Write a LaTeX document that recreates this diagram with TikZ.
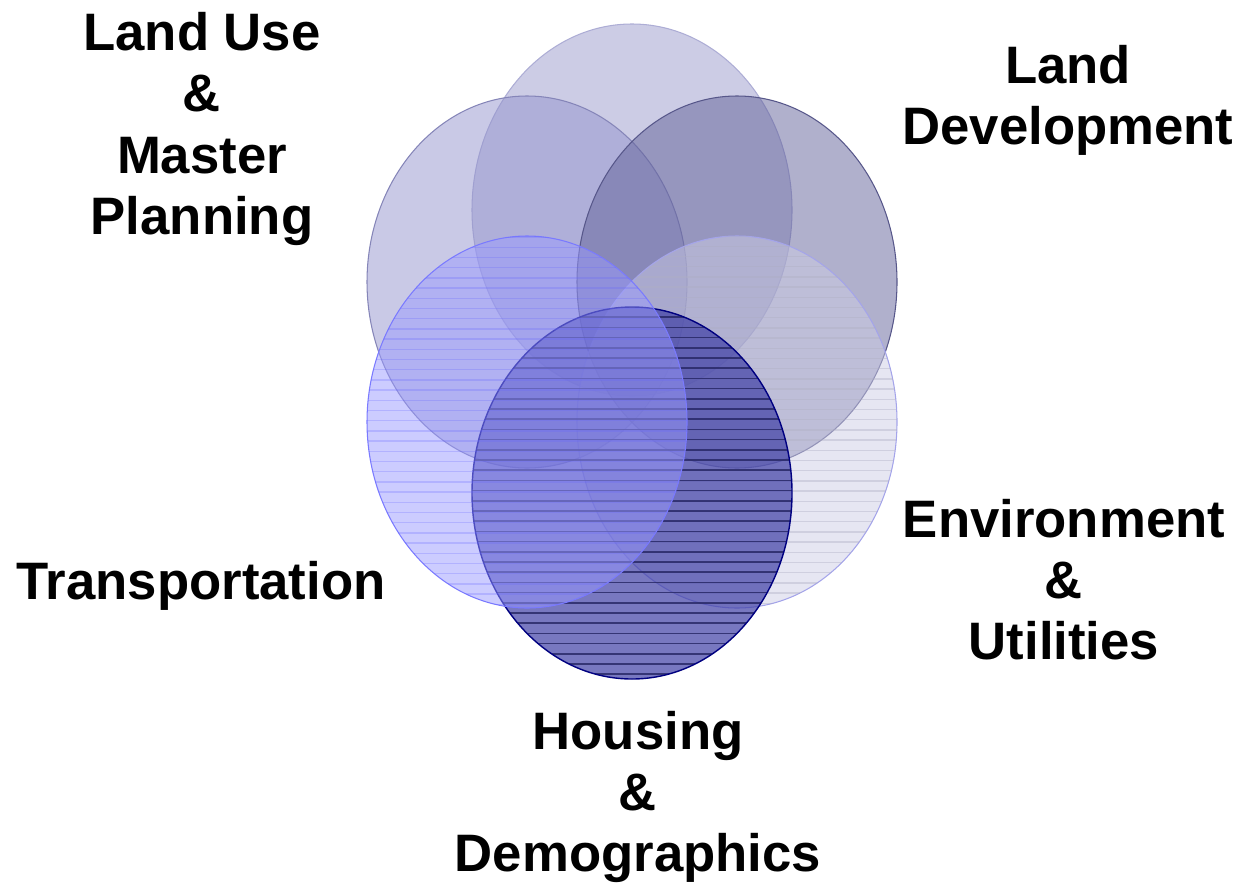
\documentclass[tikz,border=0pt]{standalone}
\usepackage{fontspec}
\setmainfont{Liberation Sans}
\usepackage{tikz}

\definecolor{topfill}{RGB}{153,153,203}
\definecolor{usefill}{RGB}{148,148,205}
\definecolor{devfill}{RGB}{97,97,153}
\definecolor{trafill}{RGB}{153,153,255}
\definecolor{envfill}{RGB}{205,205,229}
\definecolor{houfill}{RGB}{62,62,165}

\begin{document}
\begin{tikzpicture}[x = 0.02cm, y = -0.02cm, line width = 0.6pt,
  bubble/.style = {fill opacity = 0.5},
  lbl/.style = {font = \bfseries\fontsize{30}{34.8}\selectfont, align = center, inner sep = 0pt}]
\useasboundingbox (0, 0) rectangle (1243, 889);
% centres of the six ellipses
\coordinate (top) at (632, 210);
\coordinate (use) at (527, 282);
\coordinate (dev) at (737, 282);
\coordinate (env) at (737, 422);
\coordinate (hou) at (632, 493);
\coordinate (tra) at (527, 422);
\tikzset{rr/.style = {x radius = 160, y radius = 186}}
% upper three
\filldraw[bubble, fill = topfill, draw = topfill!80!white] (top) ellipse [rr];
\filldraw[bubble, fill = usefill, draw = usefill!90!black] (use) ellipse [rr];
\filldraw[bubble, fill = devfill, draw = devfill!90!black] (dev) ellipse [rr];
% lower right, striped
\filldraw[bubble, fill = envfill, draw = envfill!80!blue] (env) ellipse [rr];
\begin{scope}
\clip (env) ellipse [rr];
\foreach \k in {0, ..., 37}{\draw[line width = 0.8pt, draw = envfill!85!black, draw opacity = 0.4] (577, 236 + \k * 10.2) -- (897, 236 + \k * 10.2);}
\end{scope}
% bottom, dark and striped
\fill[fill = houfill, fill opacity = 0.7] (hou) ellipse [rr];
\begin{scope}
\clip (hou) ellipse [rr];
\foreach \k in {0, ..., 37}{\draw[line width = 1pt, draw = houfill!60!black, draw opacity = 0.8] (472, 307 + \k * 10.2) -- (792, 307 + \k * 10.2);}
\end{scope}
\draw[draw = blue!50!black, line width = 0.8pt] (hou) ellipse [rr];
% lower left, blue and striped
\filldraw[bubble, fill = trafill, draw = trafill!80!blue] (tra) ellipse [rr];
\begin{scope}
\clip (tra) ellipse [rr];
\foreach \k in {0, ..., 37}{\draw[line width = 0.8pt, draw = blue!60!white, draw opacity = 0.25] (367, 237 + \k * 10.2) -- (687, 237 + \k * 10.2);}
\end{scope}
% labels
\node[lbl] (uselbl) at (202, 129) {Land Use\\\&\\Master\\Planning};
\node[lbl] (devlbl) at (1068, 100) {Land\\Development};
\node[lbl] (tralbl) at (201, 586) {Transportation};
\node[lbl] (envlbl) at (1064, 580) {Environment\\\&\\Utilities};
\node[lbl] (houlbl) at (638, 797) {Housing\\\&\\Demographics};
\end{tikzpicture}
\end{document}
